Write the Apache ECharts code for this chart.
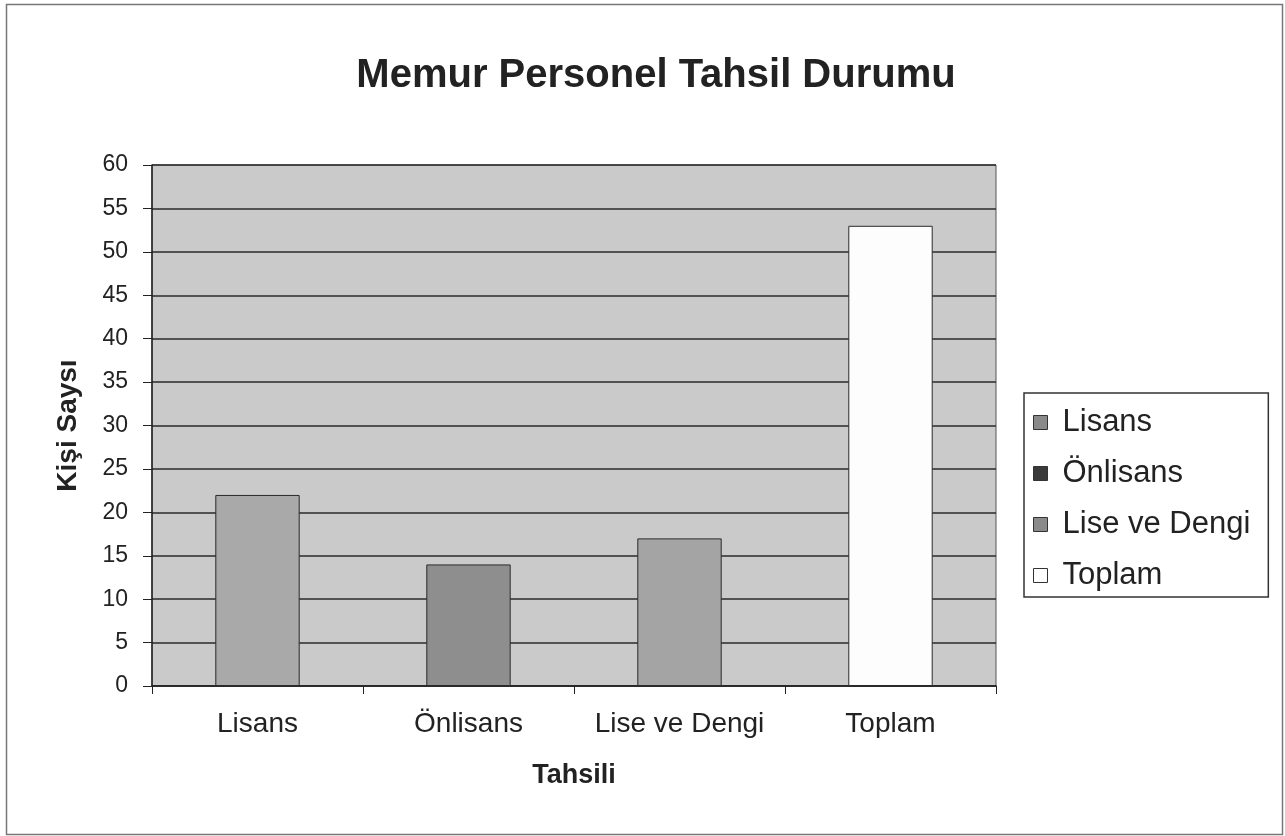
<!DOCTYPE html>
<html>
<head>
<meta charset="utf-8">
<script src="https://cdn.jsdelivr.net/npm/echarts@6/dist/echarts.min.js"></script>
<style>html,body{margin:0;padding:0;background:#fff;}#c{width:1285px;height:836px;}</style>
</head>
<body>
<div id="c"></div>
<script>
const titleText = "Memur Personel Tahsil Durumu";
const xAxisTitle = "Tahsili";
const yAxisTitle = "Kişi Saysı";
const categories = ["Lisans", "Önlisans", "Lise ve Dengi", "Toplam"];
const values = [22, 14, 17, 53];
const barColors = ["#a9a9a9", "#8e8e8e", "#a4a4a4", "#fdfdfd"];
const legendIconColors = ["#8a8a8a", "#3a3a3a", "#8a8a8a", "#ffffff"];

const font = "'Liberation Sans', Arial, sans-serif";
const chart = echarts.init(document.getElementById('c'));

const series = categories.map((name, i) => ({
  name: name,
  type: 'bar',
  barWidth: '40%',
  barGap: '-100%',
  itemStyle: { color: barColors[i], borderColor: '#2a2a2a', borderWidth: 1 },
  data: categories.map((c, j) => j === i ? values[i] : null),
  animation: false
}));

chart.setOption({
  animation: false,
  backgroundColor: '#ffffff',
  title: {
    text: titleText,
    left: 651, top: 51, textAlign: 'center',
    textStyle: { fontFamily: font, fontSize: 40, fontWeight: 'bold', color: '#222' }
  },
  graphic: [{
    type: 'rect', left: 4, top: 2, z: -10,
    shape: { width: 1276, height: 830 },
    style: { fill: 'none', stroke: '#777', lineWidth: 1.5 }
  }],
  legend: {
    orient: 'vertical',
    left: 1024, top: 393,
    padding: [14, 18, 6, 9],
    backgroundColor: '#ffffff',
    borderColor: '#333',
    borderWidth: 1.5,
    itemWidth: 14, itemHeight: 14,
    itemGap: 20,
    textStyle: { fontFamily: font, fontSize: 31, color: '#222', padding: [0, 0, 0, 10] },
    data: categories.map((c, i) => ({
      name: c,
      icon: 'rect',
      itemStyle: { color: legendIconColors[i], borderColor: '#333', borderWidth: 1 }
    }))
  },
  grid: {
    left: 152, top: 165, width: 844, height: 521,
    show: true,
    backgroundColor: '#cacaca',
    borderColor: '#555',
    borderWidth: 1
  },
  xAxis: {
    type: 'category',
    data: categories,
    name: xAxisTitle,
    nameLocation: 'middle',
    nameGap: 76,
    nameTextStyle: { fontFamily: font, fontSize: 27, fontWeight: 'bold', color: '#222' },
    axisLine: { lineStyle: { color: '#222', width: 1.5 } },
    axisTick: { show: true, interval: 0, length: 8, lineStyle: { color: '#222' } },
    axisLabel: { interval: 0, fontFamily: font, fontSize: 28, color: '#222', margin: 24 }
  },
  yAxis: {
    type: 'value',
    min: 0, max: 60, interval: 5,
    name: yAxisTitle,
    nameLocation: 'middle',
    nameGap: 70,
    nameTextStyle: { fontFamily: font, fontSize: 28, fontWeight: 'bold', color: '#222' },
    axisLine: { show: true, lineStyle: { color: '#222', width: 1.5 } },
    axisTick: { show: true, length: 9, lineStyle: { color: '#222' } },
    axisLabel: { fontFamily: font, fontSize: 23, color: '#222', margin: 24 },
    splitLine: { show: true, lineStyle: { color: '#2a2a2a', width: 1.5 } }
  },
  series: series
});
</script>
</body>
</html>
